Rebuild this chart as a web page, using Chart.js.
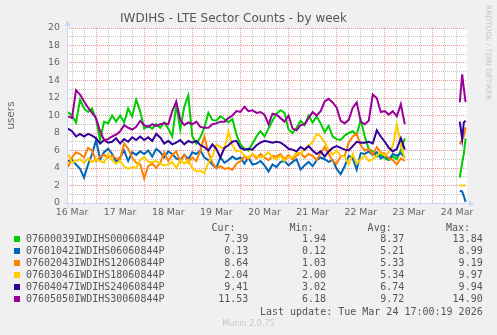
<!DOCTYPE html>
<html><head><meta charset="utf-8">
<script src="https://cdn.jsdelivr.net/npm/chart.js@4/dist/chart.umd.min.js"></script>
<style>
html,body{margin:0;padding:0;background:#f0f0f0;}
#wrap{position:relative;width:497px;height:335px;overflow:hidden;background:#f0f0f0;}
#c{position:absolute;left:0;top:0;}
.m{position:absolute;font-family:'DejaVu Sans Mono',monospace;font-size:10px;line-height:12px;color:#555;white-space:pre;}
.r{text-align:right;}
.sw{position:absolute;width:6px;height:6px;}
#wm{position:absolute;left:483px;top:5px;writing-mode:vertical-rl;font-family:'DejaVu Sans',sans-serif;font-size:7.4px;color:#c4c4c4;white-space:pre;line-height:10px;}
#mv{position:absolute;left:0;width:497px;top:318px;text-align:center;font-family:'DejaVu Sans',sans-serif;font-size:8px;line-height:12px;color:#c8c8c8;}
</style>
</head><body>
<div id="wrap">
<canvas id="c" width="497" height="335"></canvas>
<div id="wm">RRDTOOL / TOBI OETIKER</div>
<div id="legend"></div>
<div id="mv">Munin 2.0.75</div>
</div>
<script>
// hours since 16 Mar 00:00
const hours = [10,12,14,16,18,20,22,24,26,28,30,32,34,36,38,40,42,44,
46,48,50,52,54,56,58,60,62,64,66,68,70,72,74,76,78,
80,82,84,86,88,90,92,94,96,98,100,102,104,106,108,110,112,
114,116,118,120,122,124,126,128,130,132,134,136,138,140,142,144,146,148,
150,152,154,156,158,160,162,164,166,168,170,172,174,176,178,
192,205.4,206.6,207.4,208.3];

const dayLabels = ['16 Mar','17 Mar','18 Mar','19 Mar','20 Mar','21 Mar','22 Mar','23 Mar','24 Mar'];
const yTicks = [0,2,4,6,8,10,12,14,16,18,20];

const seriesNames = ['07600039IWDIHS00060844P','07601042IWDIHS06060844P','07602043IWDIHS12060844P',
  '07603046IWDIHS18060844P','07604047IWDIHS24060844P','07605050IWDIHS30060844P'];
const seriesColors = ['#00cc00','#0066b3','#ff8000','#ffcc00','#330099','#990099'];

const s0 = [10.4,10.0,9.2,11.8,10.8,10.4,10.8,9.6,7.2,9.3,9.1,10.0,9.3,10.0,9.2,10.8,9.9,11.8,
10.5,8.5,8.8,8.5,9.0,8.6,9.2,8.5,7.6,11.2,8.4,11.0,12.3,7.6,6.8,7.5,8.6,
10.3,9.5,9.4,9.9,9.6,9.2,9.6,7.8,6.7,6.2,6.0,6.8,7.6,8.2,7.6,8.5,9.4,
10.2,10.6,10.3,8.4,8.0,8.6,9.4,8.9,10.0,9.2,9.9,9.1,8.1,8.8,7.6,7.3,7.2,7.7,
8.0,8.2,7.8,9.5,7.6,6.2,5.9,5.3,5.6,5.1,4.9,5.3,5.0,6.0,7.4,
null,2.9,4.6,5.6,7.39];
const s1 = [4.8,4.9,4.4,3.9,2.9,4.4,5.6,7.2,5.0,5.8,6.2,5.6,4.7,5.2,6.0,4.8,5.8,5.5,
5.9,5.6,6.0,5.3,6.2,5.8,5.2,5.9,5.6,5.1,4.9,5.5,5.0,5.8,5.6,6.0,5.2,
4.9,4.4,4.0,5.2,4.6,4.9,5.3,5.0,5.2,4.5,5.2,4.4,4.5,4.8,4.3,3.6,4.4,
4.1,4.7,4.8,4.3,4.7,5.0,3.8,4.3,4.7,4.2,4.9,5.2,5.0,4.7,4.9,3.9,3.3,4.2,
5.4,5.1,3.8,5.7,5.6,5.9,5.5,5.8,5.1,5.4,5.0,5.6,5.4,5.7,5.2,
null,1.4,1.3,0.8,0.13];
const s2 = [4.1,5.2,5.8,5.6,5.2,6.3,6.0,4.8,5.3,5.5,5.2,5.4,5.1,5.0,6.8,6.2,5.2,4.6,
4.4,2.8,4.2,4.5,4.0,4.6,5.8,4.8,5.5,5.9,4.7,5.5,4.6,5.2,4.8,6.0,7.6,
5.8,4.6,4.0,4.2,3.9,4.0,3.8,4.5,4.8,5.3,5.0,5.6,5.1,5.6,5.2,4.9,5.4,
5.3,5.6,5.0,5.5,5.0,5.4,5.7,5.2,5.6,5.4,4.9,5.7,6.4,5.6,4.8,4.5,5.3,5.4,
6.9,7.6,7.9,6.6,6.0,6.2,5.5,6.4,5.8,5.6,5.1,4.9,4.4,5.1,4.8,
null,6.7,7.3,7.6,8.64];
const s3 = [5.6,4.6,4.8,5.0,4.6,5.1,4.7,5.0,4.8,4.6,5.6,4.9,4.5,4.8,4.2,3.9,4.1,4.0,
4.9,5.3,4.7,4.7,4.8,4.5,4.3,4.4,4.7,4.0,4.9,4.5,4.9,4.0,3.6,3.7,3.4,
4.6,5.3,6.7,6.4,6.2,8.2,6.6,5.9,6.0,5.4,5.2,5.6,5.3,5.2,5.4,5.8,5.2,
5.0,5.4,4.8,5.3,5.2,5.8,5.6,6.1,6.6,6.9,7.9,7.6,6.9,6.1,5.5,6.0,5.4,5.3,
4.4,5.6,4.5,5.0,5.4,4.8,5.0,5.4,5.8,5.4,5.8,6.5,9.0,6.6,5.1,
null,2.0,2.0,2.0,2.04];
const s4 = [8.5,8.2,7.6,7.9,7.6,7.9,7.7,7.4,6.8,7.2,6.9,7.0,7.4,6.8,7.3,7.0,7.5,7.2,
7.6,7.2,7.5,7.1,7.9,7.5,6.8,7.1,6.7,6.9,7.2,6.7,7.1,6.9,7.1,6.6,6.4,
6.0,6.7,6.2,5.2,6.3,6.6,7.0,7.1,6.3,6.1,6.2,6.1,6.6,6.9,7.1,7.0,6.9,
7.0,6.9,6.6,6.2,6.1,5.9,6.4,6.1,6.5,6.0,5.6,5.9,5.3,5.9,6.3,6.5,6.3,6.1,
6.0,6.5,7.0,6.9,6.9,7.0,6.8,8.3,7.6,7.0,6.3,5.9,6.2,7.4,6.1,
null,9.3,7.3,9.2,9.41];
const s5 = [9.9,9.7,12.9,12.4,11.6,10.9,10.3,9.7,8.2,7.2,7.3,7.6,7.8,8.2,8.9,8.6,8.4,8.7,
9.4,8.9,8.7,9.0,8.8,9.0,9.1,9.0,10.5,11.6,9.5,8.9,9.2,9.0,9.3,8.7,8.6,
8.6,9.0,9.1,9.3,9.3,9.7,10.0,10.5,10.4,11.0,10.5,10.6,10.3,10.4,10.1,9.0,10.2,
10.1,9.7,9.3,10.0,8.5,8.3,8.9,9.0,9.7,10.4,10.0,10.5,11.6,11.9,11.5,10.9,9.4,9.1,
9.5,10.9,11.5,9.3,9.0,9.4,12.4,12.0,10.4,10.5,10.1,10.5,9.9,11.3,9.0,
null,11.5,14.7,13.1,11.53];
const seriesValues = [s0,s1,s2,s3,s4,s5];

const curVals = ['7.39','0.13','8.64','2.04','9.41','11.53'];
const minVals = ['1.94','0.12','1.03','2.00','3.02','6.18'];
const avgVals = ['8.37','5.21','5.33','5.34','6.74','9.72'];
const maxVals = ['13.84','8.99','9.19','9.97','9.94','14.90'];

// ---------- legend (HTML text) ----------
const lg = document.getElementById('legend');
function addDiv(cls, text, styles){const d=document.createElement('div');d.className=cls;d.textContent=text;Object.assign(d.style,styles);lg.appendChild(d);return d;}
const headY = 221.7;
[['Cur:',235.5],['Min:',313.5],['Avg:',391.7],['Max:',470]].forEach(([t,r])=>addDiv('m r',t,{right:(497-r)+'px',top:headY+'px'}));
seriesNames.forEach((n,i)=>{
  const top = 233.3 + 12*i;
  const sw = document.createElement('div'); sw.className='sw';
  Object.assign(sw.style,{left:'14px',top:(top+3)+'px',background:seriesColors[i]}); lg.appendChild(sw);
  addDiv('m',n,{left:'26px',top:top+'px'});
  [[curVals,248.3],[minVals,326],[avgVals,404.3],[maxVals,482.7]].forEach(([arr,r])=>addDiv('m r',arr[i],{right:(497-r)+'px',top:top+'px'}));
});
addDiv('m r','Last update: Tue Mar 24 17:00:19 2026',{right:(497-482.7)+'px',top:'305.7px'});

// ---------- chart ----------
const MGRID = 'rgba(222,79,79,0.6)';
const GRID = 'rgba(143,143,143,0.55)';
const AXIS = '#CFD6F8';
const FONT = '#666666';

const bgPlugin = {
  id:'bg',
  beforeDraw(chart){
    const {ctx, chartArea:a} = chart;
    ctx.save();
    ctx.fillStyle='#f0f0f0'; ctx.fillRect(0,0,chart.width,chart.height);
    ctx.fillStyle='#ffffff'; ctx.fillRect(a.left,a.top,a.right-a.left,a.bottom-a.top);
    ctx.restore();
  },
  afterDraw(chart){
    const {ctx, chartArea:a} = chart;
    const x0 = Math.round(a.left)+0.5, y0 = Math.round(a.bottom)+0.5;
    ctx.save();
    ctx.strokeStyle=AXIS; ctx.fillStyle=AXIS; ctx.lineWidth=1;
    ctx.beginPath();
    ctx.moveTo(x0, y0+3); ctx.lineTo(x0, a.top-4);
    ctx.moveTo(x0-3, y0); ctx.lineTo(a.right+4, y0);
    ctx.stroke();
    ctx.beginPath(); ctx.moveTo(x0, a.top-8); ctx.lineTo(x0-3, a.top-2); ctx.lineTo(x0+3, a.top-2); ctx.closePath(); ctx.fill();
    ctx.beginPath(); ctx.moveTo(a.right+8, y0); ctx.lineTo(a.right+2, y0-3); ctx.lineTo(a.right+2, y0+3); ctx.closePath(); ctx.fill();
    ctx.restore();
  }
};

const datasets = seriesValues.map((vals,i)=>({
  label: seriesNames[i],
  data: hours.map((h,k)=>({x:h, y:vals[k]})),
  borderColor: seriesColors[i],
  backgroundColor: seriesColors[i],
  borderWidth: 2,
  pointRadius: 0,
  tension: 0,
  spanGaps: false,
  order: 5 - i
}));

new Chart(document.getElementById('c'), {
  type:'line',
  data:{datasets},
  plugins:[bgPlugin],
  options:{
    responsive:false, animation:false, devicePixelRatio:1,
    layout:{padding:{left:0,right:30,top:0,bottom:112}},
    plugins:{
      legend:{display:false}, tooltip:{enabled:false},
      title:{display:true, text:'IWDIHS - LTE Sector Counts - by week', color:'#555',
        font:{family:'DejaVu Sans', size:12, weight:'normal', lineHeight:1.2}, padding:{top:12,bottom:1.6}}
    },
    scales:{
      x:{
        type:'linear', min:9.5, max:209, offset:false,
        afterBuildTicks(scale){
          const t=[]; for(let v=12; v<=208; v+=6) t.push({value:v}); scale.ticks=t;
        },
        afterFit(scale){ scale.height=20; },
        ticks:{autoSkip:false, maxRotation:0, padding:4, color:FONT,
          font:{family:'DejaVu Sans', size:9.4},
          callback:(v)=> (v%24===12) ? dayLabels[(v-12)/24] : ''},
        grid:{drawTicks:false, color:(c)=> (c.tick && c.tick.value%24===0) ? MGRID : GRID, lineWidth:1},
        border:{display:false, dash:[1,1]}
      },
      y:{
        min:0, max:20,
        afterFit(scale){ scale.width=67; },
        ticks:{stepSize:1, autoSkip:false, padding:7, color:FONT,
          font:{family:'DejaVu Sans', size:9.4},
          callback:(v)=> yTicks.includes(v) ? String(v) : ''},
        grid:{drawTicks:false, color:(c)=> (c.tick && c.tick.value%2===0) ? MGRID : GRID, lineWidth:1},
        border:{display:false, dash:[1,1]},
        title:{display:true, text:'users', color:FONT, font:{family:'DejaVu Sans', size:10.4}, padding:{top:5,bottom:0}}
      }
    }
  }
});
</script>
</body></html>
